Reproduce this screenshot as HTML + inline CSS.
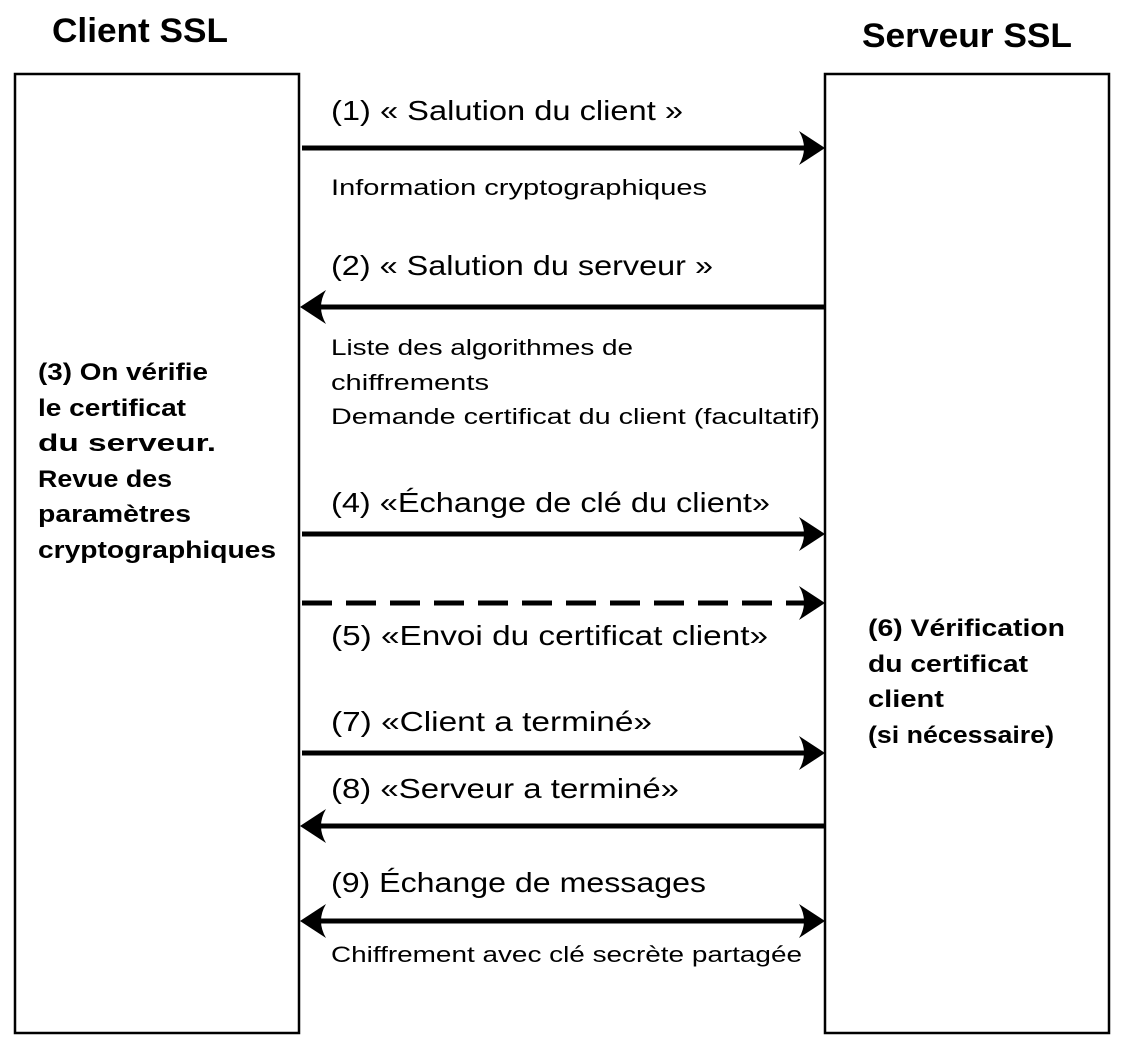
<!DOCTYPE html>
<html><head><meta charset="utf-8"><style>html,body{margin:0;padding:0;background:#fff}svg{display:block}</style></head>
<body>
<svg width="1134" height="1054" viewBox="0 0 1134 1054" xmlns="http://www.w3.org/2000/svg" font-family="Liberation Sans, sans-serif" fill="#000">
<defs>
<path id="ah" d="M0,0 L-26,-17 Q-16,0 -26,17 Z"/>
</defs>
<rect x="15" y="74" width="284" height="959" fill="none" stroke="#000" stroke-width="2.5"/>
<rect x="825" y="74" width="284" height="959" fill="none" stroke="#000" stroke-width="2.5"/>
<g font-weight="bold" font-size="34">
<text x="52" y="42" textLength="176" lengthAdjust="spacingAndGlyphs">Client SSL</text>
<text x="862" y="47" textLength="210" lengthAdjust="spacingAndGlyphs">Serveur SSL</text>
</g>
<g stroke="#000" stroke-width="5">
<line x1="302" y1="148" x2="812" y2="148"/>
<line x1="312" y1="307" x2="825" y2="307"/>
<line x1="302" y1="534" x2="812" y2="534"/>
<line x1="302" y1="603" x2="812" y2="603" stroke-dasharray="30,14"/>
<line x1="302" y1="753" x2="812" y2="753"/>
<line x1="312" y1="826" x2="825" y2="826"/>
<line x1="312" y1="921" x2="812" y2="921"/>
</g>
<use href="#ah" transform="translate(825,148)"/>
<use href="#ah" transform="translate(300,307) scale(-1,1)"/>
<use href="#ah" transform="translate(825,534)"/>
<use href="#ah" transform="translate(825,603)"/>
<use href="#ah" transform="translate(825,753)"/>
<use href="#ah" transform="translate(300,826) scale(-1,1)"/>
<use href="#ah" transform="translate(300,921) scale(-1,1)"/>
<use href="#ah" transform="translate(825,921)"/>
<g font-size="28">
<text x="331" y="120" textLength="352" lengthAdjust="spacingAndGlyphs">(1) « Salution du client »</text>
<text x="331" y="275" textLength="382" lengthAdjust="spacingAndGlyphs">(2) « Salution du serveur »</text>
<text x="331" y="512" textLength="439" lengthAdjust="spacingAndGlyphs">(4) «Échange de clé du client»</text>
<text x="331" y="645" textLength="437" lengthAdjust="spacingAndGlyphs">(5) «Envoi du certificat client»</text>
<text x="331" y="731" textLength="321" lengthAdjust="spacingAndGlyphs">(7) «Client a terminé»</text>
<text x="331" y="798" textLength="348" lengthAdjust="spacingAndGlyphs">(8) «Serveur a terminé»</text>
<text x="331" y="892" textLength="375" lengthAdjust="spacingAndGlyphs">(9) Échange de messages</text>
</g>
<g font-size="22">
<text x="331" y="195" textLength="376" lengthAdjust="spacingAndGlyphs">Information cryptographiques</text>
<text x="331" y="355" textLength="302" lengthAdjust="spacingAndGlyphs">Liste des algorithmes de</text>
<text x="331" y="390" textLength="158" lengthAdjust="spacingAndGlyphs">chiffrements</text>
<text x="331" y="424" textLength="489" lengthAdjust="spacingAndGlyphs">Demande certificat du client (facultatif)</text>
<text x="331" y="962" textLength="471" lengthAdjust="spacingAndGlyphs">Chiffrement avec clé secrète partagée</text>
</g>
<g font-size="24" font-weight="bold">
<text x="38" y="380" textLength="170" lengthAdjust="spacingAndGlyphs">(3) On vérifie</text>
<text x="38" y="416" textLength="148" lengthAdjust="spacingAndGlyphs">le certificat</text>
<text x="38" y="451" textLength="178" lengthAdjust="spacingAndGlyphs">du serveur.</text>
<text x="38" y="487" textLength="134" lengthAdjust="spacingAndGlyphs">Revue des</text>
<text x="38" y="522" textLength="153" lengthAdjust="spacingAndGlyphs">paramètres</text>
<text x="38" y="558" textLength="238" lengthAdjust="spacingAndGlyphs">cryptographiques</text>
<text x="868" y="636" textLength="197" lengthAdjust="spacingAndGlyphs">(6) Vérification</text>
<text x="868" y="672" textLength="160" lengthAdjust="spacingAndGlyphs">du certificat</text>
<text x="868" y="707" textLength="76" lengthAdjust="spacingAndGlyphs">client</text>
<text x="868" y="743" textLength="186" lengthAdjust="spacingAndGlyphs">(si nécessaire)</text>
</g>
</svg>
</body></html>
